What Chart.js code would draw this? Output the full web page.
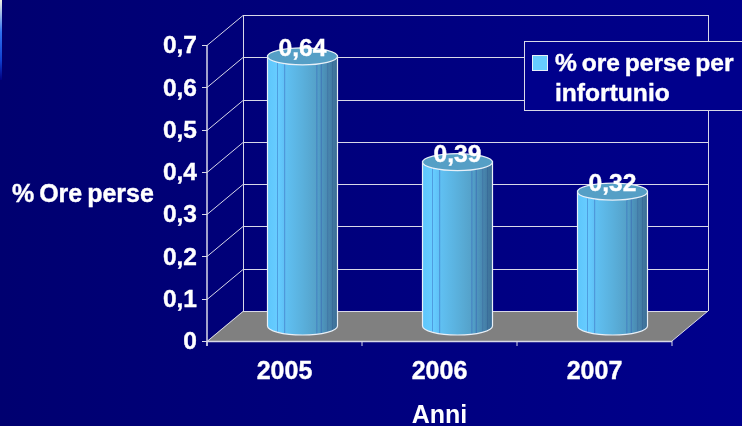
<!DOCTYPE html>
<html>
<head>
<meta charset="utf-8">
<script src="https://cdn.jsdelivr.net/npm/chart.js@4"></script>
<style>
html, body { margin: 0; padding: 0; width: 742px; height: 426px; overflow: hidden; background: linear-gradient(90deg, #000070, #00008c); }
#wrap { position: absolute; left: 0; top: 0; width: 742px; height: 426px; }
#edge { position: absolute; left: 0; top: 0; width: 2px; height: 80px; background: linear-gradient(180deg, #f0f0e0, #3070f0 40%, #1040d0 75%, #000080); }
</style>
</head>
<body>
<div id="edge"></div>
<div id="wrap"><canvas id="chart" width="742" height="426"></canvas></div>
<script>
const categories = ['2005', '2006', '2007'];
const values = [0.64, 0.39, 0.32];
const yTicks = [0, 0.1, 0.2, 0.3, 0.4, 0.5, 0.6, 0.7];
const seriesName = '% ore perse per infortunio';
const legendLines = ['% ore perse per', 'infortunio'];
const yTitle = '% Ore perse';
const xTitle = 'Anni';

const fontName = '"Liberation Sans", Arial, sans-serif';
const textFont = 'bold 24.6px ' + fontName;
const depthX = 36;
const depthY = 30;
const lineColor = '#d8d8e8';

function comma(v) {
    return String(v).replace('.', ',');
}

function line(ctx, x1, y1, x2, y2) {
    ctx.beginPath();
    ctx.moveTo(x1, y1);
    ctx.lineTo(x2, y2);
    ctx.stroke();
}

// heavier text, the original was scaled up and looks thicker
function boldText(ctx, text, x, y) {
    ctx.strokeStyle = '#ffffff';
    ctx.lineWidth = 0.4;
    ctx.strokeText(text, x, y);
    ctx.fillText(text, x, y);
}

// horizontal shading of the cylinder, with the thin facets of the original
function barGradient(ctx, left, right) {
    const g = ctx.createLinearGradient(left, 0, right, 0);
    const stops = [
        [0, '#5ec6fb'], [0.13, '#66ccff'], [0.14, '#4a92d8'], [0.155, '#66ccff'],
        [0.235, '#60c2f6'], [0.245, '#4a8ed4'], [0.26, '#60c0f2'],
        [0.5, '#5ab0dc'], [0.69, '#55a2ca'], [0.705, '#4480c0'], [0.72, '#52a0c8'],
        [0.755, '#509ac2'], [0.765, '#3c6cb4'], [0.78, '#4e96be'],
        [0.85, '#4a8ab2'], [0.86, '#3f74a4'], [0.875, '#4886ae'],
        [0.92, '#437ca4'], [0.93, '#386a98'], [0.945, '#41789f'], [1, '#396a94']
    ];
    stops.forEach(s => g.addColorStop(s[0], s[1]));
    return g;
}

const wallsPlugin = {
    id: 'walls',
    // tick labels sit a little lower than Chart.js centres them
    beforeDraw(chart) {
        chart.scales.y.getLabelItems().forEach(item => {
            item.options.translation[1] += 1.5;
        });
    },
    beforeDatasetsDraw(chart) {
        const { ctx, chartArea: a, scales: { y } } = chart;
        ctx.save();
        // floor
        ctx.fillStyle = '#808080';
        ctx.beginPath();
        ctx.moveTo(a.left, a.bottom);
        ctx.lineTo(a.left + depthX, a.bottom - depthY);
        ctx.lineTo(a.right + depthX, a.bottom - depthY);
        ctx.lineTo(a.right, a.bottom);
        ctx.closePath();
        ctx.fill();
        ctx.strokeStyle = lineColor;
        ctx.lineWidth = 1;
        // grid on the side and back walls
        yTicks.forEach(v => {
            const py = Math.round(y.getPixelForValue(v)) + 0.5;
            line(ctx, a.left - 5, py, a.left, py);
            line(ctx, a.left, py, a.left + depthX, py - depthY);
            line(ctx, a.left + depthX, py - depthY, a.right + depthX, py - depthY);
        });
        line(ctx, a.left + depthX + 0.5, a.top - depthY, a.left + depthX + 0.5, a.bottom - depthY);
        line(ctx, a.right + depthX + 0.5, a.top - depthY, a.right + depthX + 0.5, a.bottom - depthY);
        line(ctx, a.right, a.bottom, a.right + depthX, a.bottom - depthY);
        // front axes
        ctx.lineWidth = 1.5;
        line(ctx, a.left, a.top, a.left, a.bottom + 5);
        line(ctx, a.left, a.bottom + 0.5, a.right, a.bottom + 0.5);
        ctx.lineWidth = 1;
        for (let i = 0; i <= categories.length; i++) {
            const px = a.left + (a.right - a.left) * i / categories.length;
            line(ctx, px, a.bottom, px, a.bottom + 5);
        }
        ctx.restore();
    },
    // the cylinders stand halfway into the floor
    beforeDatasetDraw(chart) {
        const ctx = chart.ctx;
        ctx.save();
        ctx.translate(depthX / 2, -depthY / 2);
        chart.getDatasetMeta(0).data.forEach(bar => {
            const { x, base, width } = bar.getProps(['x', 'base', 'width'], true);
            ctx.fillStyle = barGradient(ctx, x - width / 2, x + width / 2);
            ctx.beginPath();
            ctx.ellipse(x, base, width / 2, 9, 0, 0, Math.PI);
            ctx.fill();
            ctx.strokeStyle = '#e8f0f8';
            ctx.lineWidth = 1.2;
            ctx.stroke();
        });
    },
    afterDatasetDraw(chart) {
        const ctx = chart.ctx;
        chart.getDatasetMeta(0).data.forEach(bar => {
            const { x, y, base, width } = bar.getProps(['x', 'y', 'base', 'width'], true);
            ctx.strokeStyle = '#e8f0f8';
            ctx.lineWidth = 1.2;
            line(ctx, x - width / 2, y, x - width / 2, base);
            line(ctx, x + width / 2, y, x + width / 2, base);
            ctx.fillStyle = '#559fc6';
            ctx.beginPath();
            ctx.ellipse(x, y + 1, width / 2, 8.5, 0, 0, Math.PI * 2);
            ctx.fill();
            ctx.stroke();
        });
        ctx.restore();
    },
    afterDraw(chart) {
        const { ctx } = chart;
        ctx.save();
        // value labels
        ctx.font = textFont;
        ctx.fillStyle = '#ffffff';
        ctx.textAlign = 'center';
        ctx.textBaseline = 'middle';
        chart.getDatasetMeta(0).data.forEach((bar, i) => {
            boldText(ctx, comma(values[i]), bar.x + depthX / 2, bar.y - depthY / 2 - 6);
        });
        ctx.wordSpacing = '-2px';
        // y axis title stays horizontal
        ctx.textAlign = 'left';
        ctx.font = 'bold 25px ' + fontName;
        boldText(ctx, yTitle, 12, 195);
        // legend
        ctx.fillStyle = '#00008c';
        ctx.fillRect(524.5, 41.5, 230, 69);
        ctx.strokeStyle = lineColor;
        ctx.lineWidth = 1;
        ctx.strokeRect(524.5, 41.5, 230, 69);
        ctx.fillStyle = '#66ccff';
        ctx.fillRect(532.5, 55.5, 15, 15);
        ctx.strokeStyle = '#e8f0f8';
        ctx.strokeRect(532.5, 55.5, 15, 15);
        ctx.font = textFont;
        ctx.fillStyle = '#ffffff';
        boldText(ctx, legendLines[0], 555, 64);
        boldText(ctx, legendLines[1], 555, 94);
        ctx.restore();
    }
};

new Chart(document.getElementById('chart'), {
    type: 'bar',
    data: {
        labels: categories,
        datasets: [{
            label: seriesName,
            data: values,
            barThickness: 70,
            borderWidth: 0,
            backgroundColor: c => {
                const area = c.chart.chartArea;
                if (!area) return '#5cc4fa';
                const cx = area.left + (area.right - area.left) * (c.dataIndex + 0.5) / categories.length;
                return barGradient(c.chart.ctx, cx - 35, cx + 35);
            }
        }]
    },
    options: {
        responsive: false,
        animation: false,
        layout: { padding: { top: 45, right: 70, bottom: 0, left: 0 } },
        plugins: { legend: { display: false }, tooltip: { enabled: false } },
        scales: {
            x: {
                grid: { display: false },
                border: { display: false },
                ticks: { color: '#ffffff', font: { family: fontName, size: 25, weight: 'bold' }, padding: 8, maxRotation: 0, textStrokeColor: '#ffffff', textStrokeWidth: 0.4 },
                title: { display: true, text: xTitle, color: '#ffffff', font: { family: fontName, size: 25, weight: 'bold' }, padding: { top: 10, bottom: -5 } },
                afterFit: s => { s.height = 85; }
            },
            y: {
                min: 0,
                max: 0.7,
                afterBuildTicks: s => { s.ticks = yTicks.map(v => ({ value: v })); },
                grid: { display: false },
                border: { display: false },
                ticks: { color: '#ffffff', font: { family: fontName, size: 24.5, weight: 'bold' }, padding: 2, textStrokeColor: '#ffffff', textStrokeWidth: 0.4, callback: v => comma(v) },
                afterFit: s => { s.width = 207; }
            }
        }
    },
    plugins: [wallsPlugin]
});
</script>
</body>
</html>
